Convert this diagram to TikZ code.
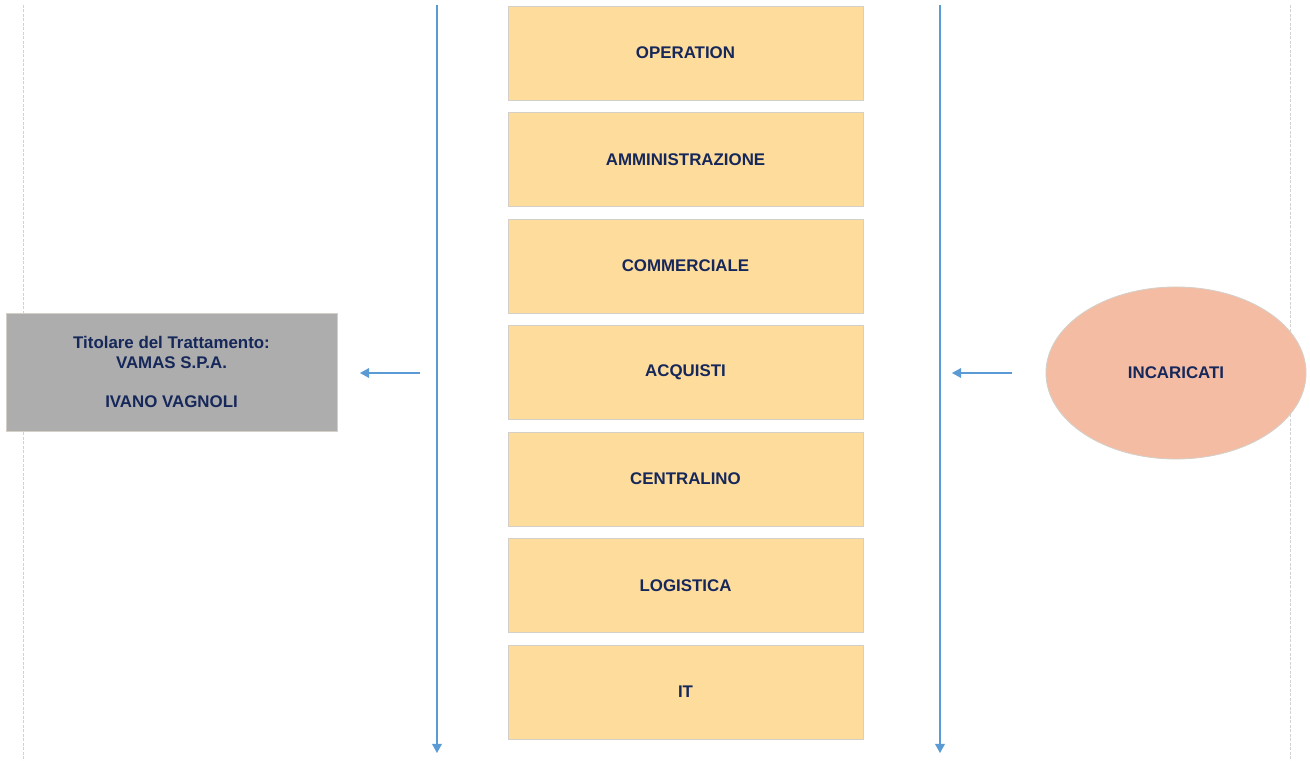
\documentclass[tikz,border=0pt]{standalone}
\usepackage{fontspec}
\setmainfont{Liberation Sans}
\usepackage{tikz}
\usetikzlibrary{positioning,shapes.geometric,arrows.meta}

\definecolor{navy}{HTML}{16275A}
\definecolor{boxfill}{HTML}{FDDC9C}
\definecolor{boxline}{HTML}{D4D0C8}
\definecolor{titfill}{HTML}{ADADAD}
\definecolor{incfill}{HTML}{F5BCA4}
\definecolor{flow}{HTML}{5B9BD5}

\tikzset{
  txt/.style={text=navy, font=\fontsize{12}{14}\selectfont\bfseries, align=center},
  area/.style={txt, draw=boxline, fill=boxfill, line width=0.6pt,
    minimum width=8.875cm, minimum height=2.35cm, outer sep=0pt},
  flowline/.style={draw=flow, line width=0.8pt, -{Triangle[length=6.5pt,width=7pt]}},
  border/.style={draw=gray!35, line width=0.6pt, dash pattern=on 2pt off 1.2pt}
}

\begin{document}
\begin{tikzpicture}[x=0.025cm, y=-0.025cm, node distance=0.3125cm]
\useasboundingbox (0,0) rectangle (1310,761);

\draw[border] (23,5) -- (23,761);
\draw[border] (1290,5) -- (1290,761);

\node[area] (operation) at (685.5,53) {OPERATION};
\node[area, below=of operation] (amministrazione) {AMMINISTRAZIONE};
\node[area, below=of amministrazione] (commerciale) {COMMERCIALE};
\node[area, below=of commerciale] (acquisti) {ACQUISTI};
\node[area, below=of acquisti] (centralino) {CENTRALINO};
\node[area, below=of centralino] (logistica) {LOGISTICA};
\node[area, below=of logistica] (it) {IT};

\node[txt, draw=boxline, fill=titfill, line width=0.6pt, minimum width=8.275cm,
  minimum height=2.95cm] (titolare) at (171.5,372)
  {Titolare del Trattamento:\\VAMAS S.P.A.\\[14pt]IVANO VAGNOLI};
\node[txt, ellipse, draw=boxline, fill=incfill, line width=0.6pt, minimum width=6.5cm,
  minimum height=4.3cm, inner sep=0pt] (incaricati) at (1176,373) {INCARICATI};

\coordinate (ltop) at (437,5);
\coordinate (lbot) at (437,753);
\coordinate (rtop) at (940,5);
\coordinate (rbot) at (940,753);
\draw[flowline] (ltop) -- (lbot);
\draw[flowline] (rtop) -- (rbot);

\coordinate (lfrom) at (420,373);
\coordinate (lto) at (360,373);
\coordinate (rfrom) at (1012,373);
\coordinate (rto) at (952,373);
\draw[flowline] (lfrom) -- (lto);
\draw[flowline] (rfrom) -- (rto);
\end{tikzpicture}
\end{document}
